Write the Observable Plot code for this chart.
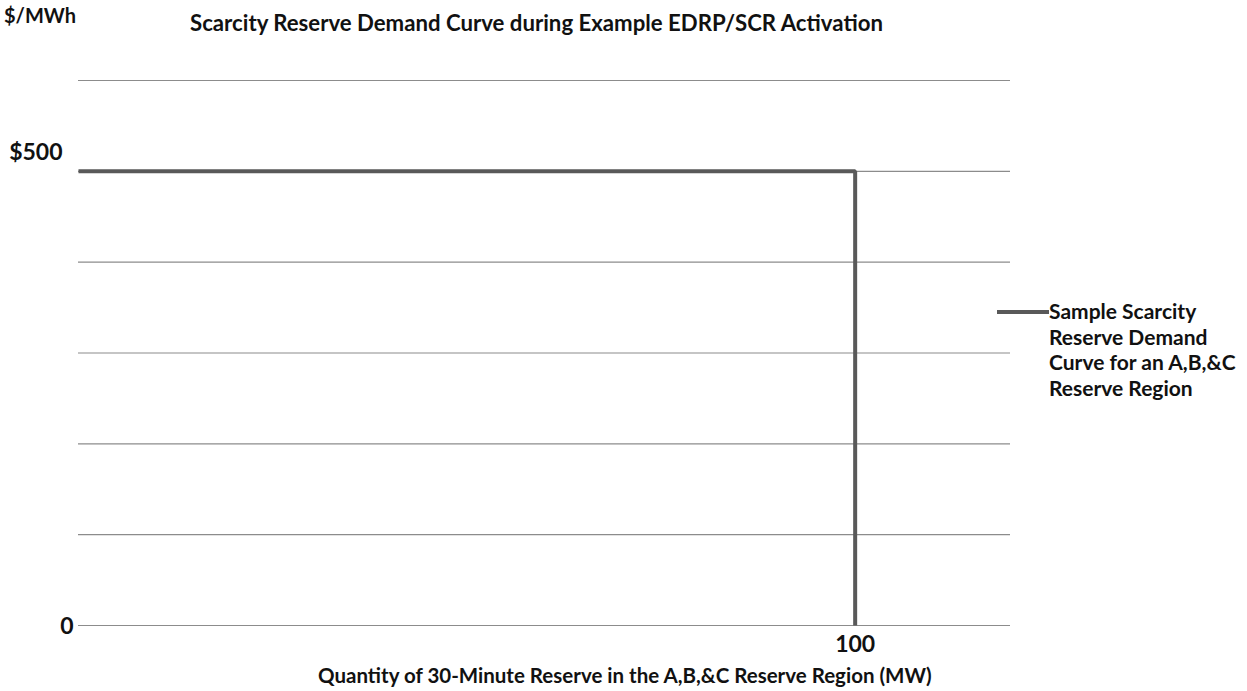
<!DOCTYPE html>
<html>
<head>
<meta charset="utf-8">
<script src="https://cdn.jsdelivr.net/npm/d3@7"></script>
<script src="https://cdn.jsdelivr.net/npm/@observablehq/plot@0.6"></script>
<style>
  html, body { margin: 0; padding: 0; background: #fff; }
  #wrap { position: relative; width: 1247px; height: 691px; font-family: Lato, "Open Sans", sans-serif; font-weight: bold; color: #111; }
  #wrap svg { position: absolute; left: 0; top: 0; }
  .lbl { position: absolute; white-space: nowrap; font-weight: bold; line-height: 1; }
</style>
</head>
<body>
<div id="wrap">
  <div class="lbl" id="unit" style="left:4px; top:5px; font-size:20px;">$/MWh</div>
  <div class="lbl" id="title" style="left:190px; top:12px; font-size:22.2px;">Scarcity Reserve Demand Curve during Example EDRP/SCR Activation</div>
  <div class="lbl" id="xlabel" style="left:318px; top:665px; font-size:20.5px;">Quantity of 30-Minute Reserve in the A,B,&amp;C Reserve Region (MW)</div>
  <div id="legend" style="position:absolute; left:997px; top:298px; font-size:21px; line-height:25.5px;">
    <svg width="52" height="26" style="position:absolute; left:0; top:0;"><line x1="0" y1="14" x2="52" y2="14" stroke="#595959" stroke-width="4"/></svg>
    <div style="position:absolute; left:52px; top:0; white-space:nowrap;"></div>
  </div>
</div>
<script>
// Data
const quantity = [0, 100, 100];          // MW
const price = [500, 500, 0];             // $/MWh
const gridValues = [0, 100, 200, 300, 400, 500, 600];
const yTickValues = [500, 0];
const yTickLabels = ["$500", "0"];
const xTickValues = [100];
const xTickLabels = ["100"];
const seriesName = ["Sample Scarcity", "Reserve Demand", "Curve for an A,B,&C", "Reserve Region"];

const curve = quantity.map((q, i) => ({q, p: price[i]}));
const xTicks = xTickValues.map((v, i) => ({v, label: xTickLabels[i]}));

const chart = Plot.plot({
  width: 1247,
  height: 691,
  marginLeft: 78,
  marginRight: 237,
  marginTop: 80,
  marginBottom: 66,
  x: {domain: [0, 120], axis: null},
  y: {domain: [0, 600], axis: null},
  style: {fontFamily: "Lato, 'Open Sans', sans-serif", background: "white"},
  marks: [
    Plot.ruleY(gridValues, {stroke: "#8c8c8c", strokeWidth: 1.2}),
    Plot.line(curve, {x: "q", y: "p", stroke: "#595959", strokeWidth: 4, strokeLinejoin: "miter", strokeLinecap: "butt"}),
    Plot.text([{v: yTickValues[0], label: yTickLabels[0]}], {x: 0, y: "v", text: "label", dx: -16, dy: -19, textAnchor: "end", fontSize: 23, fontWeight: "bold", fill: "#111"}),
    Plot.text([{v: yTickValues[1], label: yTickLabels[1]}], {x: 0, y: "v", text: "label", dx: -5, dy: 1, textAnchor: "end", fontSize: 23, fontWeight: "bold", fill: "#111"}),
    Plot.text(xTicks, {x: "v", y: 0, text: "label", dy: 19, fontSize: 23, fontWeight: "bold", fill: "#111"})
  ]
});
document.getElementById("wrap").prepend(chart);
document.querySelector("#legend div").innerHTML = seriesName.join("<br>");
</script>
</body>
</html>
